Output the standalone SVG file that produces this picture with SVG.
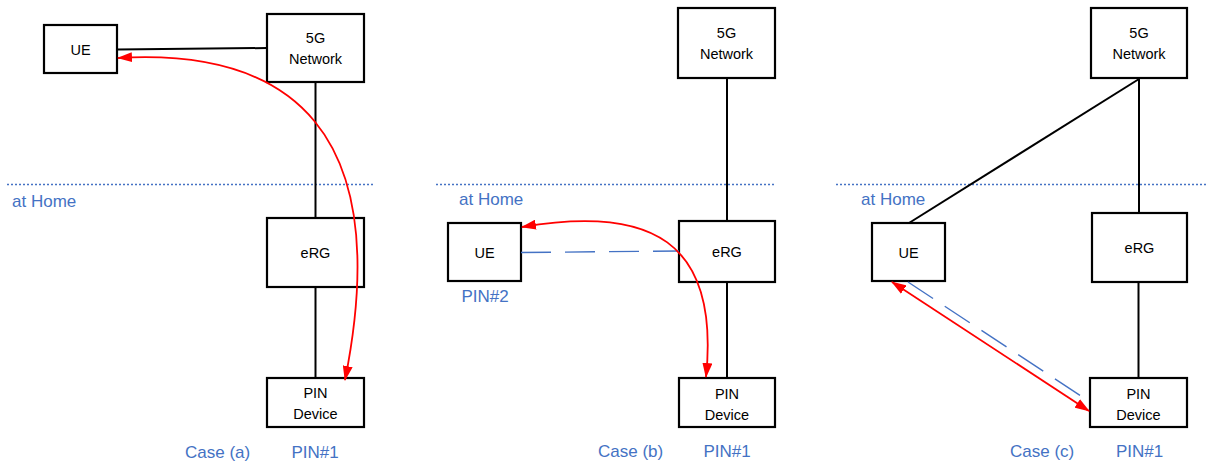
<svg xmlns="http://www.w3.org/2000/svg" width="1208" height="464" viewBox="0 0 1208 464">
<style>
.box{fill:#fff;stroke:#000;stroke-width:2.2}
.t{font-family:"Liberation Sans",Arial,sans-serif;font-size:14.5px;fill:#000;text-anchor:middle}
.lbl{font-family:"Liberation Sans",Arial,sans-serif;font-size:17px;fill:#4472C4}
.mid{text-anchor:middle}
.link{stroke:#000;stroke-width:2;fill:none}
.home{stroke:#4472C4;stroke-width:1.6;stroke-dasharray:2 2;fill:none}
.dash{stroke:#4472C4;stroke-width:1.4;stroke-dasharray:30 14;fill:none}
.red{stroke:#FF0000;stroke-width:1.8;fill:none;marker-end:url(#ah);marker-start:url(#ah)}
</style>
<defs>
<marker id="ah" markerUnits="userSpaceOnUse" viewBox="0 0 15 10" refX="14" refY="5" markerWidth="15" markerHeight="10" orient="auto-start-reverse">
<path d="M0,0 L15,5 L0,10 z" fill="#FF0000"/>
</marker>
</defs>

<g id="home-lines">
<line class="home" x1="7" y1="184.5" x2="374" y2="184.5"/>
<line class="home" x1="436" y1="184.5" x2="776" y2="184.5"/>
<line class="home" x1="836" y1="184.5" x2="1208" y2="184.5"/>
</g>

<g id="ue-a"><rect class="box" x="44" y="25" width="73" height="48"/><text class="t" x="80.5" y="55">UE</text></g>
<g id="net-a"><rect class="box" x="267" y="14" width="97" height="68"/><text class="t" x="315.5" y="43">5G</text><text class="t" x="315.5" y="64">Network</text></g>
<g id="erg-a"><rect class="box" x="267" y="218" width="97" height="69"/><text class="t" x="315.5" y="258">eRG</text></g>
<g id="pin-a"><rect class="box" x="267" y="378" width="97" height="49"/><text class="t" x="315.5" y="398">PIN</text><text class="t" x="315.5" y="419">Device</text></g>

<g id="ue-b"><rect class="box" x="448" y="223" width="73" height="58"/><text class="t" x="484.5" y="258">UE</text></g>
<g id="net-b"><rect class="box" x="678" y="8" width="97" height="70"/><text class="t" x="726.5" y="38">5G</text><text class="t" x="726.5" y="59">Network</text></g>
<g id="erg-b"><rect class="box" x="679" y="221" width="96" height="61"/><text class="t" x="727" y="257">eRG</text></g>
<g id="pin-b"><rect class="box" x="679" y="378" width="96" height="49"/><text class="t" x="727" y="399">PIN</text><text class="t" x="727" y="420">Device</text></g>

<g id="ue-c"><rect class="box" x="872" y="223" width="73" height="58"/><text class="t" x="908.5" y="258">UE</text></g>
<g id="net-c"><rect class="box" x="1091" y="8" width="96" height="70"/><text class="t" x="1139" y="38">5G</text><text class="t" x="1139" y="59">Network</text></g>
<g id="erg-c"><rect class="box" x="1092" y="213" width="95" height="69"/><text class="t" x="1139.5" y="253">eRG</text></g>
<g id="pin-c"><rect class="box" x="1090" y="378" width="97" height="49"/><text class="t" x="1138.5" y="399">PIN</text><text class="t" x="1138.5" y="420">Device</text></g>

<g id="connectors">
<!-- case a -->
<line class="link" x1="117" y1="49.5" x2="267" y2="48"/>
<line class="link" x1="315.5" y1="82" x2="315.5" y2="218"/>
<line class="link" x1="315.5" y1="287" x2="315.5" y2="378"/>
<path class="red" d="M118,58 C290,48 395,130 345,380"/>
<!-- case b -->
<line class="link" x1="727" y1="78" x2="727" y2="221"/>
<line class="link" x1="727" y1="282" x2="727" y2="378"/>
<line class="dash" x1="521" y1="252.5" x2="679" y2="251"/>
<path class="red" d="M522,227 C650,205 720,240 706,377"/>
<!-- case c -->
<line class="link" x1="1139" y1="78" x2="1139" y2="213"/>
<line class="link" x1="1138.5" y1="282" x2="1138.5" y2="378"/>
<line class="link" x1="1139" y1="79" x2="909" y2="223"/>
<line class="dash" x1="908" y1="282" x2="1090" y2="402"/>
<line class="red" x1="892" y1="282" x2="1089" y2="411"/>
</g>

<g id="labels">
<text class="lbl" x="12" y="207">at Home</text>
<text class="lbl" x="459" y="205">at Home</text>
<text class="lbl" x="861" y="205">at Home</text>
<text class="lbl" x="185" y="458">Case (a)</text>
<text class="lbl mid" x="315" y="458">PIN#1</text>
<text class="lbl mid" x="485" y="302">PIN#2</text>
<text class="lbl" x="598" y="457">Case (b)</text>
<text class="lbl mid" x="727" y="457">PIN#1</text>
<text class="lbl" x="1010" y="457">Case (c)</text>
<text class="lbl mid" x="1139.5" y="457">PIN#1</text>
</g>
</svg>
